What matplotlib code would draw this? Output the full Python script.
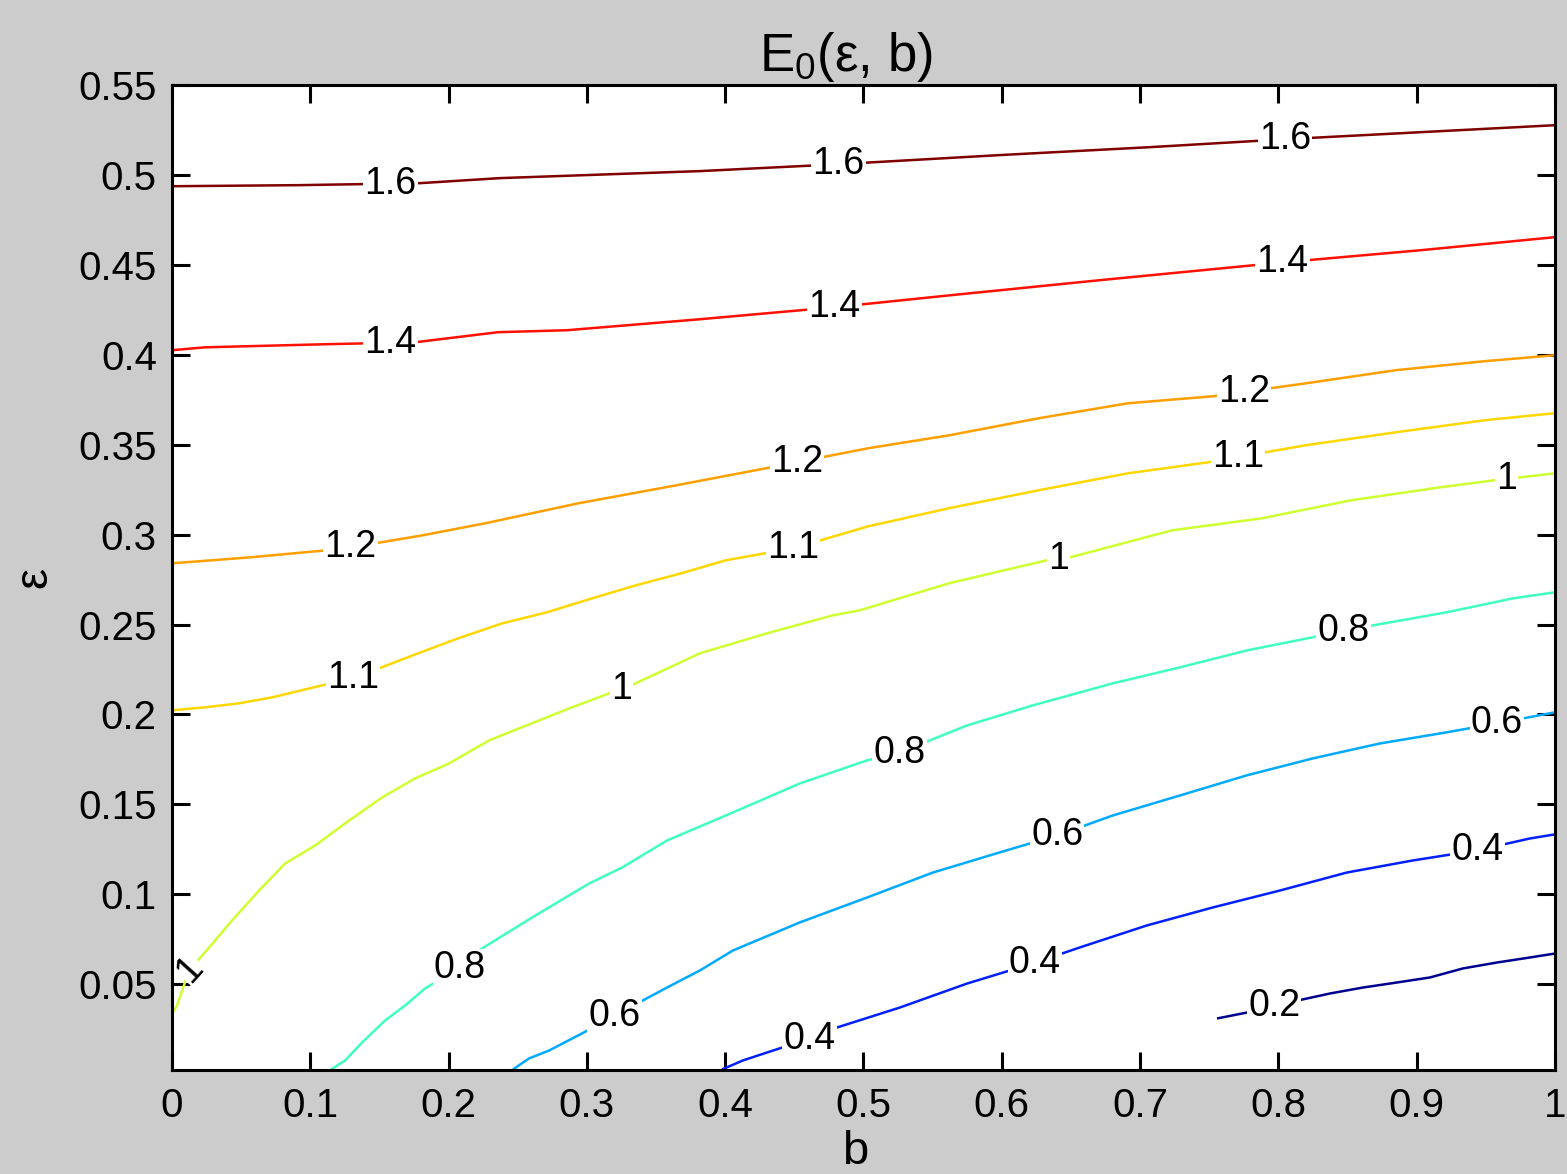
import numpy as np
import matplotlib
matplotlib.use("Agg")
import matplotlib.pyplot as plt

plt.rcParams['font.family'] = ['Liberation Sans', 'DejaVu Sans']
plt.rcParams['mathtext.fontset'] = 'custom'
plt.rcParams['mathtext.rm'] = 'Liberation Sans'

# contour lines of E0(eps, b): b values and eps values for every level
b_02 = [0.7556, 0.7772, 0.7975, 0.8206, 0.8373, 0.8611, 0.8857, 0.9096, 0.9334, 0.9580, 0.9819, 1.0]
eps_02 = [0.0311, 0.0344, 0.0383, 0.0422, 0.0450, 0.0483, 0.0511, 0.0539, 0.0589, 0.0622, 0.0650, 0.0672]

b_04 = [0.3977, 0.4128, 0.4302, 0.4613, 0.4808, 0.5263, 0.5748, 0.6225, 0.6565, 0.7049, 0.7526, 0.8011,
        0.8495, 0.8972, 0.9435, 0.9818, 1.0]
eps_04 = [0.0028, 0.0078, 0.0122, 0.0200, 0.0261, 0.0372, 0.0505, 0.0617, 0.0706, 0.0828, 0.0928, 0.1022,
          0.1122, 0.1189, 0.1245, 0.1311, 0.1334]

b_06 = [0.2465, 0.2581, 0.2726, 0.2964, 0.3167, 0.3362, 0.3579, 0.3817, 0.4056, 0.4540, 0.5025, 0.5502,
        0.5986, 0.6399, 0.6803, 0.7288, 0.7772, 0.8249, 0.8734, 0.9218, 0.9580, 1.0]
eps_06 = [0.0028, 0.0089, 0.0133, 0.0228, 0.0311, 0.0394, 0.0483, 0.0578, 0.0689, 0.0845, 0.0983, 0.1122,
          0.1234, 0.1328, 0.1439, 0.1550, 0.1662, 0.1756, 0.1839, 0.1901, 0.1951, 0.2012]

b_08 = [0.1150, 0.1251, 0.1374, 0.1540, 0.1685, 0.1829, 0.2075, 0.2241, 0.2603, 0.3015, 0.3254, 0.3579,
        0.4056, 0.4540, 0.5025, 0.5263, 0.5748, 0.6225, 0.6803, 0.7288, 0.7772, 0.8249, 0.8683, 0.9218,
        0.9695, 1.0]
eps_08 = [0.0028, 0.0078, 0.0178, 0.0300, 0.0383, 0.0478, 0.0589, 0.0700, 0.0872, 0.1061, 0.1150, 0.1300,
          0.1456, 0.1617, 0.1745, 0.1789, 0.1939, 0.2051, 0.2173, 0.2262, 0.2356, 0.2429, 0.2495, 0.2568,
          0.2645, 0.2679]

b_10 = [0.0, 0.0, 0.0036, 0.0123, 0.0268, 0.0434, 0.0629, 0.0817, 0.1034, 0.1251, 0.1518, 0.1757, 0.2003,
        0.2292, 0.2653, 0.2892, 0.3160, 0.3290, 0.3817, 0.4302, 0.4779, 0.4974, 0.5618, 0.6326, 0.6493,
        0.7230, 0.7881, 0.8524, 0.9168, 0.9558, 0.9753, 1.0]
eps_10 = [0.0028, 0.0339, 0.0383, 0.0578, 0.0706, 0.0856, 0.1022, 0.1172, 0.1272, 0.1395, 0.1539, 0.1645,
          0.1728, 0.1856, 0.1967, 0.2040, 0.2117, 0.2151, 0.2340, 0.2451, 0.2551, 0.2579, 0.2729, 0.2857,
          0.2873, 0.3023, 0.3090, 0.3190, 0.3262, 0.3301, 0.3318, 0.3340]

b_11 = [0.0, 0.0239, 0.0484, 0.0723, 0.1085, 0.1309, 0.1742, 0.2068, 0.2386, 0.2711, 0.3037, 0.3355,
        0.3680, 0.4005, 0.4490, 0.5032, 0.5618, 0.6268, 0.6912, 0.7490, 0.8199, 0.8850, 0.9493, 1.0]
eps_11 = [0.2023, 0.2040, 0.2062, 0.2095, 0.2162, 0.2201, 0.2329, 0.2423, 0.2506, 0.2568, 0.2645, 0.2718,
          0.2784, 0.2857, 0.2923, 0.3045, 0.3146, 0.3246, 0.3340, 0.3401, 0.3496, 0.3568, 0.3635, 0.3674]

b_12 = [0.0, 0.0564, 0.1113, 0.1468, 0.1808, 0.2263, 0.2935, 0.3644, 0.4295, 0.5032, 0.5618, 0.6268,
        0.6912, 0.7526, 0.8199, 0.8850, 0.9493, 1.0]
eps_12 = [0.2840, 0.2873, 0.2912, 0.2951, 0.2995, 0.3062, 0.3173, 0.3273, 0.3368, 0.3479, 0.3551, 0.3646,
          0.3729, 0.3768, 0.3840, 0.3913, 0.3963, 0.3996]

b_14 = [0.0, 0.0239, 0.1099, 0.1757, 0.2357, 0.2856, 0.3817, 0.4793, 0.5625, 0.6709, 0.8047, 0.9023, 1.0]
eps_14 = [0.4024, 0.4040, 0.4057, 0.4068, 0.4124, 0.4135, 0.4196, 0.4263, 0.4329, 0.4413, 0.4513, 0.4579,
          0.4652]

b_16 = [0.0, 0.0925, 0.1793, 0.2371, 0.3817, 0.4815, 0.5986, 0.7071, 0.8047, 0.9023, 1.0]
eps_16 = [0.4935, 0.4941, 0.4952, 0.4980, 0.5019, 0.5057, 0.5108, 0.5152, 0.5196, 0.5235, 0.5274]

levels = [0.2, 0.4, 0.6, 0.8, 1.0, 1.1, 1.2, 1.4, 1.6]
level_b = [b_02, b_04, b_06, b_08, b_10, b_11, b_12, b_14, b_16]
level_eps = [eps_02, eps_04, eps_06, eps_08, eps_10, eps_11, eps_12, eps_14, eps_16]

# where the inline labels sit along each line (b coordinate)
label_b = [[0.797],
           [0.461, 0.624, 0.944],
           [0.320, 0.640, 0.958],
           [0.208, 0.526, 0.847],
           [0.013, 0.325, 0.641, 0.965],
           [0.131, 0.449, 0.771],
           [0.129, 0.452, 0.775],
           [0.158, 0.479, 0.803],
           [0.158, 0.482, 0.805]]

# jet-like colours for each level
colors = ['#00008f', '#0020ff', '#00aaff', '#40ffbf', '#cfff30',
          '#ffd700', '#ff9f00', '#ff1000', '#800000']

fig = plt.figure(figsize=(15.67, 11.74), dpi=100, facecolor='#cccccc')
ax = fig.add_axes([0.1098, 0.0886, 0.8825, 0.8394])
ax.set_facecolor('white')
ax.set_xlim(0, 1)
ax.set_ylim(0.0025, 0.55)

for lev, bb, ee, col in zip(levels, level_b, level_eps, colors):
    ax.plot(bb, ee, color=col, lw=1.8, solid_capstyle='butt', zorder=2)

# inline labels; upright except where the line is steep near the left edge
for lev, bb, ee, lbs in zip(levels, level_b, level_eps, label_b):
    for lb in lbs:
        le = np.interp(lb, bb, ee)
        ang = 48 if lb < 0.05 else 0
        ax.text(lb, le, f'{lev:g}', fontsize=27, ha='center', va='center',
                rotation=ang, rotation_mode='anchor', color='black', zorder=2.2,
                clip_on=True,
                bbox=dict(boxstyle='square,pad=0.03', fc='white', ec='none'))

ax.set_xticks(np.arange(0, 1.01, 0.1))
ax.set_xticklabels(['0', '0.1', '0.2', '0.3', '0.4', '0.5', '0.6', '0.7', '0.8', '0.9', '1'])
ax.set_yticks(np.arange(0.05, 0.551, 0.05))
ax.set_yticklabels(['0.05', '0.1', '0.15', '0.2', '0.25', '0.3', '0.35', '0.4', '0.45', '0.5', '0.55'])
ax.tick_params(direction='in', length=13, width=2.2, labelsize=29, top=True, right=True,
               color='black', labelcolor='black')
ax.tick_params(axis='x', pad=12)
ax.tick_params(axis='y', pad=11)
for sp in ax.spines.values():
    sp.set_linewidth(2.2)
    sp.set_color('black')
    sp.set_zorder(3)

ax.set_title(r'E$_\mathregular{0}$(ε, b)', fontsize=38, pad=10, x=0.487)
ax.set_xlabel('b', fontsize=34, labelpad=4, x=0.494)
ax.set_ylabel('ε', fontsize=34, labelpad=16)

fig.savefig('out.png', dpi=100, facecolor=fig.get_facecolor())
